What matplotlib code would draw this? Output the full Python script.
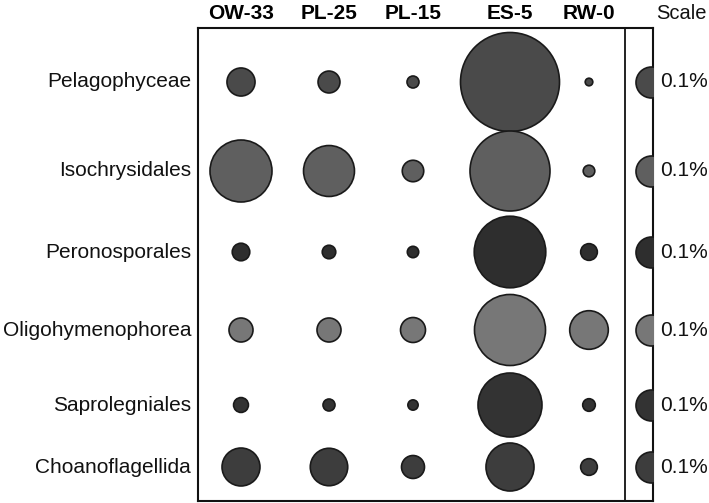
import matplotlib
matplotlib.use("Agg")
import matplotlib.pyplot as plt
import numpy as np

plt.rcParams['font.family'] = ['Liberation Sans', 'DejaVu Sans']

# ---- data ----
sites = ["OW-33", "PL-25", "PL-15", "ES-5", "RW-0"]
taxa = ["Pelagophyceae", "Isochrysidales", "Peronosporales",
        "Oligohymenophorea", "Saprolegniales", "Choanoflagellida"]
# relative abundance (%) per taxon (rows) and site (columns)
pelagophyceae = [0.082, 0.050, 0.015, 1.02, 0.006]
isochrysidales = [0.40, 0.27, 0.048, 0.666, 0.014]
peronosporales = [0.032, 0.019, 0.0135, 0.533, 0.029]
oligohymenophorea = [0.060, 0.060, 0.065, 0.525, 0.155]
saprolegniales = [0.023, 0.015, 0.011, 0.426, 0.0165]
choanoflagellida = [0.150, 0.146, 0.055, 0.240, 0.029]
scale_value = 0.1
scale_label = "0.1%"

values = [pelagophyceae, isochrysidales, peronosporales,
          oligohymenophorea, saprolegniales, choanoflagellida]

# ---- layout / style ----
row_colors = ["#4a4a4a", "#5f5f5f", "#2e2e2e", "#777777", "#333333", "#3d3d3d"]
col_x = [241, 329, 413, 510, 589]
row_y = [82, 171, 252, 330, 405, 467]
scale_x = 651
divider_x = 625
scale_radius_px = 15.5          # radius (px) of a 0.1% circle
px_to_pt = 72 / 100


def size_for(v):
    r = scale_radius_px * np.sqrt(v / scale_value)
    return (2 * r * px_to_pt) ** 2


fig = plt.figure(figsize=(7.09, 5.03), dpi=100)
ax = fig.add_axes([198 / 709, 2 / 503, 455 / 709, 473 / 503])
ax.set_xlim(198, 653)
ax.set_ylim(501, 28)
ax.set_xticks([])
ax.set_yticks([])
for sp in ax.spines.values():
    sp.set_linewidth(1.5)
    sp.set_color("#111111")
ax.axvline(divider_x, color="#111111", lw=1.3)

for i, (taxon, vals) in enumerate(zip(taxa, values)):
    ax.scatter(col_x, [row_y[i]] * len(col_x), s=[size_for(v) for v in vals],
               color=row_colors[i], edgecolors="#1a1a1a", linewidths=1.2, zorder=3)
    ax.scatter([scale_x], [row_y[i]], s=[size_for(scale_value)],
               color=row_colors[i], edgecolors="#1a1a1a", linewidths=1.2, zorder=3)
    ax.text(191, row_y[i], taxon, ha="right", va="center",
            fontsize=15, color="#111111", clip_on=False)
    ax.text(660, row_y[i], scale_label, ha="left", va="center",
            fontsize=15, color="#111111", clip_on=False)

for x, s in zip(col_x, sites):
    ax.text(x, 14, s, ha="center", va="center", fontsize=15,
            fontweight="bold", clip_on=False)
ax.text(681, 14, "Scale", ha="center", va="center", fontsize=14.5,
        color="#111111", clip_on=False)

fig.savefig("out.png", dpi=100)
